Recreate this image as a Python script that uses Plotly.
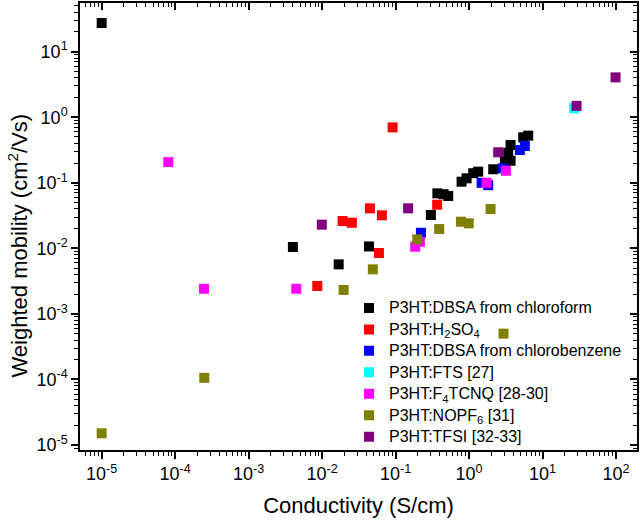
import plotly.graph_objects as go

# ---- data ----
series_names = [
    "P3HT:DBSA from chloroform",
    "P3HT:H<sub>2</sub>SO<sub>4</sub>",
    "P3HT:DBSA from chlorobenzene",
    "P3HT:FTS [27]",
    "P3HT:F<sub>4</sub>TCNQ [28-30]",
    "P3HT:NOPF<sub>6</sub> [31]",
    "P3HT:TFSI [32-33]",
]
series_colors = ["#000000", "#ff0000", "#0000ff", "#00ffff", "#ff00ff", "#808000", "#800080"]

dbsa_cf_x = [1e-5, 0.0040, 0.0168, 0.0434, 0.302, 0.37, 0.45, 0.52, 0.79, 0.925, 1.14, 1.33,
             2.13, 3.07, 3.67, 3.41, 3.67, 5.45, 6.38]
dbsa_cf_y = [27.4, 0.0105, 0.0057, 0.0107, 0.0323, 0.069, 0.067, 0.063, 0.104, 0.117, 0.140, 0.148,
             0.161, 0.210, 0.217, 0.288, 0.377, 0.494, 0.524]

h2so4_x = [0.0086, 0.019, 0.0254, 0.0447, 0.0651, 0.0593, 0.368, 0.091]
h2so4_y = [0.00267, 0.0261, 0.0246, 0.0408, 0.0319, 0.0085, 0.0463, 0.70]

dbsa_cb_x = [0.221, 1.48, 1.82, 2.86, 4.91, 5.74]
dbsa_cb_y = [0.0173, 0.100, 0.092, 0.166, 0.316, 0.364]

fts_x = [26.9]
fts_y = [1.37]

f4tcnq_x = [8.06e-5, 2.47e-4, 0.00445, 0.185, 0.214, 1.73, 3.17]
f4tcnq_y = [0.207, 0.00242, 0.00242, 0.0106, 0.0126, 0.100, 0.153]

nopf6_x = [1e-5, 2.49e-4, 0.0196, 0.049, 0.197, 0.392, 0.774, 0.99, 1.96, 2.94]
nopf6_y = [1.51e-5, 1.06e-4, 0.00232, 0.00479, 0.0137, 0.0197, 0.0255, 0.0241, 0.0398, 5.0e-4]

tfsi_x = [0.0099, 0.148, 2.49, 29.0, 98.4]
tfsi_y = [0.0230, 0.0408, 0.292, 1.49, 4.06]

x_tick_vals = [1e-5, 1e-4, 1e-3, 1e-2, 1e-1, 1e0, 1e1, 1e2]
x_tick_text = ["10<sup>-5</sup>", "10<sup>-4</sup>", "10<sup>-3</sup>", "10<sup>-2</sup>",
               "10<sup>-1</sup>", "10<sup>0</sup>", "10<sup>1</sup>", "10<sup>2</sup>"]
y_tick_vals = [1e-5, 1e-4, 1e-3, 1e-2, 1e-1, 1e0, 1e1]
y_tick_text = ["10<sup>-5</sup>", "10<sup>-4</sup>", "10<sup>-3</sup>", "10<sup>-2</sup>",
               "10<sup>-1</sup>", "10<sup>0</sup>", "10<sup>1</sup>"]

x_title = "Conductivity (S/cm)"
y_title = "Weighted mobility (cm<sup>2</sup>/Vs)"

xs = [dbsa_cf_x, h2so4_x, dbsa_cb_x, fts_x, f4tcnq_x, nopf6_x, tfsi_x]
ys = [dbsa_cf_y, h2so4_y, dbsa_cb_y, fts_y, f4tcnq_y, nopf6_y, tfsi_y]

FONT = "Liberation Sans, Arial, sans-serif"

fig = go.Figure()
for name, color, x, y in zip(series_names, series_colors, xs, ys):
    fig.add_trace(go.Scatter(
        x=x, y=y, mode="markers",
        name='<span style="font-size:16px">' + name + "</span>",
        marker=dict(symbol="square", size=10, color=color, line=dict(width=0)),
    ))

# invisible trace to carry the mirrored (inside-tick) top/right axes
fig.add_trace(go.Scatter(x=[1], y=[1], xaxis="x2", yaxis="y2", mode="markers",
                         marker=dict(opacity=0), showlegend=False, hoverinfo="skip"))

XR = [-5.295, 2.285]
YR = [-5.076, 1.743]

axis_common = dict(showgrid=False, zeroline=False, showline=True, linecolor="black",
                   linewidth=1.5, tickcolor="black", tickwidth=1.5)

fig.update_layout(
    width=640, height=525,
    margin=dict(l=80, r=3, t=3, b=75),
    paper_bgcolor="white", plot_bgcolor="white",
    font=dict(family=FONT, color="black"),
    showlegend=True,
    legend=dict(x=0.483, y=0.353, xanchor="left", yanchor="top",
                font=dict(family=FONT, size=14.2, color="black"),
                bgcolor="rgba(0,0,0,0)", borderwidth=0, tracegroupgap=0,
                itemwidth=30),
    xaxis=dict(type="log", range=XR, tickmode="array", tickvals=x_tick_vals, ticktext=x_tick_text,
               ticks="outside", ticklen=7, tickfont=dict(size=18, family=FONT),
               minor=dict(ticks="outside", ticklen=4, dtick="D1", tickcolor="black", tickwidth=1.2),
               title=dict(text=x_title, font=dict(size=22, family=FONT), standoff=14),
               **axis_common),
    yaxis=dict(type="log", range=YR, tickmode="array", tickvals=y_tick_vals, ticktext=y_tick_text,
               ticks="outside", ticklen=7, tickfont=dict(size=18, family=FONT),
               minor=dict(ticks="outside", ticklen=4, dtick="D1", tickcolor="black", tickwidth=1.2),
               **axis_common),
    xaxis2=dict(type="log", range=XR, overlaying="x", side="top", matches="x",
                tickmode="array", tickvals=x_tick_vals, showticklabels=False,
                ticks="inside", ticklen=7,
                minor=dict(ticks="inside", ticklen=4, dtick="D1", tickcolor="black", tickwidth=1.2),
                **axis_common),
    yaxis2=dict(type="log", range=YR, overlaying="y", side="right", matches="y",
                tickmode="array", tickvals=y_tick_vals, showticklabels=False,
                ticks="inside", ticklen=7,
                minor=dict(ticks="inside", ticklen=4, dtick="D1", tickcolor="black", tickwidth=1.2),
                **axis_common),
    annotations=[dict(text=y_title, textangle=-90, xref="paper", yref="paper",
                      x=0, y=0.5, xanchor="center", yanchor="middle",
                      xshift=-63, yshift=-19, showarrow=False,
                      font=dict(size=22, family=FONT, color="black"))],
)

fig.write_html("out.html")
